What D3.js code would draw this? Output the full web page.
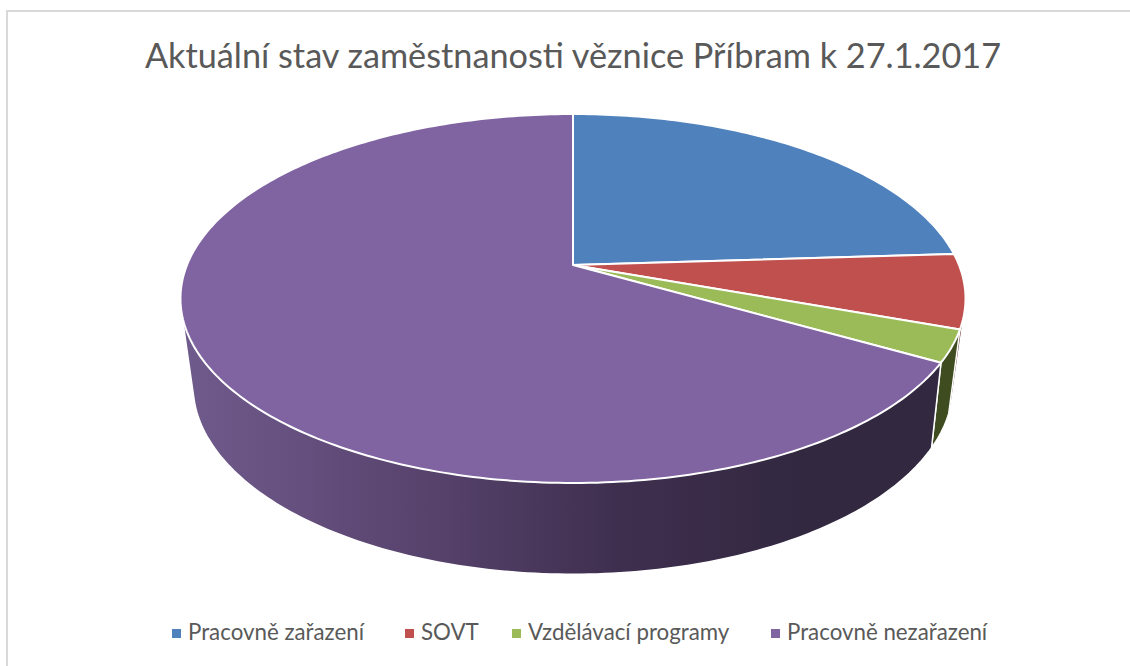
<!DOCTYPE html>
<html>
<head>
<meta charset="utf-8">
<script src="https://cdn.jsdelivr.net/npm/d3@7"></script>
<style>
    html, body { margin: 0; padding: 0; background: #fff; }
    svg { display: block; }
    text { font-family: Lato, "Open Sans", sans-serif; fill: #595959; }
</style>
</head>
<body>
<svg></svg>
<script>
    var width = 1130,
        height = 666;

    var title = 'Aktuální stav zaměstnanosti věznice Příbram k 27.1.2017';

    // Share of each category in percent
    var categories = ['Pracovně zařazení', 'SOVT', 'Vzdělávací programy', 'Pracovně nezařazení'];
    var values = [24, 6.5, 2.8, 66.7];
    var topColors = ['#4f81bd', '#c0504d', '#9bbb59', '#8064a2'];
    var sideColors = ['#2a4566', '#5f2422', '#3e4c20', '#6f5a8c'];

    // Legend swatch x position of each entry
    var legendX = [172, 405, 512, 771];

    var svg = d3.select('svg')
        .attr('width', width)
        .attr('height', height);

    // Chart frame, only the top and left edges are in the picture
    svg.append('path')
        .attr('d', 'M7,666V11H' + width)
        .attr('fill', 'none')
        .attr('stroke', '#d9d9d9')
        .attr('stroke-width', 2);

    svg.append('text')
        .attr('x', 573)
        .attr('y', 68)
        .attr('text-anchor', 'middle')
        .style('font-size', '34.25px')
        .text(title);

    // Perspective view of a flat disc: angle on the disc -> screen point
    function disc(cx, cy, rx, ry, p) {
        return function(a) {
            var u = Math.sin(a),
                v = Math.cos(a),
                w = 1 + p * v;
            return [cx + rx * u / w, cy - ry * v / w];
        };
    }

    var topDisc = disc(573, 265, 386, 178.4, 0.1816);
    var bottomDisc = disc(573, 347.5, 372.3, 181.4, 0.2);

    var arcs = d3.pie().sort(null)(values);
    var line = d3.line();

    function arcPoints(project, d) {
        var n = Math.max(2, Math.ceil((d.endAngle - d.startAngle) * 60));
        return d3.range(n + 1).map(function(i) {
            return project(d.startAngle + (d.endAngle - d.startAngle) * i / n);
        });
    }

    // Side walls get darker from left to right
    var defs = svg.append('defs');
    var wallGradient = defs.append('linearGradient')
        .attr('id', 'wall')
        .attr('gradientUnits', 'userSpaceOnUse')
        .attr('x1', 190)
        .attr('x2', 800)
        .attr('y1', 0)
        .attr('y2', 0);
    wallGradient.append('stop').attr('offset', 0).attr('stop-color', '#6f5a8c');
    wallGradient.append('stop').attr('offset', 0.35).attr('stop-color', '#5a4570');
    wallGradient.append('stop').attr('offset', 0.7).attr('stop-color', '#3f2f4f');
    wallGradient.append('stop').attr('offset', 1).attr('stop-color', '#322840');

    // Walls first, the top faces cover their hidden parts.
    // The hull also fills the straight silhouette between the two rims.
    svg.append('g').selectAll('path')
        .data(arcs)
        .enter().append('path')
        .attr('d', function(d) {
            return line(d3.polygonHull(arcPoints(topDisc, d).concat(arcPoints(bottomDisc, d)))) + 'Z';
        })
        .attr('fill', function(d, i) {
            return i === 3 ? 'url(#wall)' : sideColors[i];
        })
        .attr('stroke', '#fff')
        .attr('stroke-width', 1.5)
        .attr('stroke-linejoin', 'round');

    svg.append('g').selectAll('path')
        .data(arcs)
        .enter().append('path')
        .attr('d', function(d) {
            return line([[573, 265]].concat(arcPoints(topDisc, d))) + 'Z';
        })
        .attr('fill', function(d, i) { return topColors[i]; })
        .attr('stroke', '#fff')
        .attr('stroke-width', 2)
        .attr('stroke-linejoin', 'round');

    // Legend
    var legend = svg.append('g').selectAll('g')
        .data(categories)
        .enter().append('g')
        .attr('transform', function(d, i) { return 'translate(' + legendX[i] + ',633)'; });

    legend.append('rect')
        .attr('x', 0)
        .attr('y', -4)
        .attr('width', 9)
        .attr('height', 9)
        .attr('fill', function(d, i) { return topColors[i]; });

    legend.append('text')
        .attr('x', 16)
        .attr('y', 7)
        .style('font-size', '22.3px')
        .text(function(d) { return d; });
</script>
</body>
</html>
